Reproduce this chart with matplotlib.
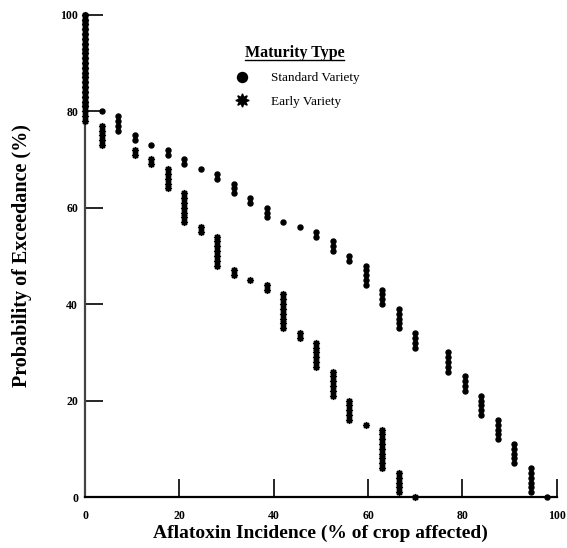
import numpy as np
import matplotlib
matplotlib.use("Agg")
import matplotlib.pyplot as plt
from matplotlib.lines import Line2D

plt.rcParams['font.family'] = ['Liberation Serif', 'DejaVu Serif']

# incidence levels (% of crop affected) and how many seasons fell on each level
std_levels = [0, 3.5, 7, 10.5, 14, 17.5, 21, 24.5, 28, 31.5, 35, 38.5, 42, 45.5,
              49, 52.5, 56, 59.5, 63, 66.5, 70, 77, 80.5, 84, 87.5, 91, 94.5, 98]
std_counts = [20, 1, 4, 2, 1, 2, 2, 1, 2, 3, 2, 3, 1, 1,
              2, 3, 2, 5, 4, 5, 4, 5, 4, 5, 5, 5, 6, 1]

early_levels = [0, 3.5, 10.5, 14, 17.5, 21, 24.5, 28, 31.5, 35, 38.5, 42, 45.5,
                49, 52.5, 56, 59.5, 63, 66.5, 70]
early_counts = [23, 5, 2, 2, 5, 7, 2, 7, 2, 1, 2, 8, 2,
                6, 6, 5, 1, 9, 5, 1]

x_ticks = [0, 20, 40, 60, 80, 100]
y_ticks = [0, 20, 40, 60, 80, 100]


def exceedance(levels, counts):
    # sorted sample -> probability of exceedance by rank
    x = np.repeat(levels, counts)
    n = len(x)
    p = 100.0 * (n - 1 - np.arange(n)) / (n - 1)
    return x, p


xs, ps = exceedance(std_levels, std_counts)
xe, pe = exceedance(early_levels, early_counts)

fig = plt.figure(figsize=(5.67, 5.48), dpi=100)
ax = fig.add_axes([0.150, 0.093, 0.832, 0.880])

ax.plot(xe, pe, linestyle='none', marker=(8, 1, 0), markersize=4.8,
        color='black', clip_on=False, label='Early Variety', zorder=3)
ax.plot(xs, ps, linestyle='none', marker='o', markersize=3.6,
        color='black', clip_on=False, label='Standard Variety', zorder=4)

ax.set_xlim(0, 100)
ax.set_ylim(0, 100)
ax.set_xticks(x_ticks)
ax.set_yticks(y_ticks)
ax.tick_params(direction='in', length=13, width=1.2, labelsize=8.5)
ax.tick_params(axis='x', pad=9)
ax.tick_params(axis='y', pad=5)
for lab in ax.get_xticklabels() + ax.get_yticklabels():
    lab.set_fontweight('bold')

ax.spines['top'].set_visible(False)
ax.spines['right'].set_visible(False)
ax.spines['left'].set_color('#444444')
ax.spines['left'].set_linewidth(1.6)
ax.spines['bottom'].set_linestyle((0, (1, 1)))
ax.spines['bottom'].set_linewidth(1.6)

ax.set_xlabel('Aflatoxin Incidence (% of crop affected)', fontsize=14,
              fontweight='bold', labelpad=2)
ax.set_ylabel('Probability of Exceedance (%)', fontsize=14.5,
              fontweight='bold', labelpad=20)

handles, labels = ax.get_legend_handles_labels()
leg = ax.legend(handles[::-1], labels[::-1], loc='upper left',
                bbox_to_anchor=(0.28, 0.962), frameon=False, fontsize=9.5,
                title='Maturity Type', handletextpad=1.2, labelspacing=0.85,
                markerscale=2.0)
leg.get_title().set_fontsize(11.5)
leg.get_title().set_fontweight('bold')

# underline the legend title
fig.canvas.draw()
bb = leg.get_title().get_window_extent()
inv = fig.transFigure.inverted()
(x0, y0), (x1, _) = inv.transform([(bb.x0, bb.y0 + 1), (bb.x1, bb.y0)])
fig.add_artist(Line2D([x0, x1], [y0, y0], color='black', linewidth=1,
                      transform=fig.transFigure))

fig.savefig('out.png', dpi=100)
